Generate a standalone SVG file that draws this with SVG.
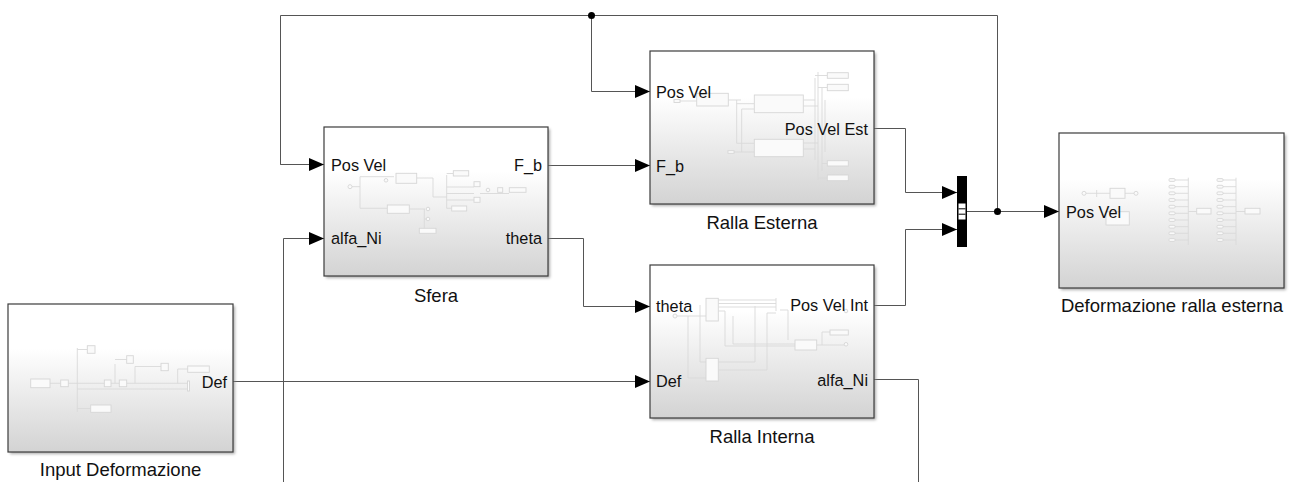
<svg xmlns="http://www.w3.org/2000/svg" width="1289" height="482" viewBox="0 0 1289 482">
<defs>
<linearGradient id="bg" x1="0" y1="0" x2="0" y2="1">
<stop offset="0" stop-color="#ffffff"/>
<stop offset="0.3" stop-color="#ffffff"/>
<stop offset="1" stop-color="#d3d3d3"/>
</linearGradient>
<filter id="sh" x="-5%" y="-5%" width="115%" height="115%">
<feGaussianBlur stdDeviation="1.5"/>
</filter>
<marker id="arr" markerUnits="userSpaceOnUse" markerWidth="15" markerHeight="13" refX="15" refY="6.5" orient="auto">
<path d="M0,0 L15,6.5 L0,13 z" fill="#000"/>
</marker>
<style>
.blk{fill:url(#bg);stroke:#3c3c3c;stroke-width:1.2}
.shd{fill:#8a8a8a;opacity:0.7;filter:url(#sh)}
.th{fill:none;stroke:#d9d9d9;stroke-width:0.9}
.thr{fill:#fafafa;stroke:#d6d6d6;stroke-width:0.9}
.pl{font-family:"Liberation Sans",Arial,sans-serif;font-size:16.3px;fill:#111}
.bn{font-family:"Liberation Sans",Arial,sans-serif;font-size:18.5px;fill:#111;text-anchor:middle}
.ln{fill:none;stroke:#555;stroke-width:1}
.la{fill:none;stroke:#555;stroke-width:1;marker-end:url(#arr)}
</style>
</defs>

<g id="connectors">
<path class="ln" d="M997.5,211.5 V15.5 H280.5 V164.5 H310"/>
<path class="la" d="M280.5,164.5 H324"/>
<path class="la" d="M591.5,15.5 V91.5 H650"/>
<path class="la" d="M548,165.5 H650"/>
<path class="la" d="M548,238.5 H583.5 V306.5 H650"/>
<path class="la" d="M233,381.5 H650"/>
<path class="la" d="M874,128.5 H905.5 V192.5 H957"/>
<path class="la" d="M874,305.5 H905.5 V229.5 H957"/>
<path class="la" d="M967,211.5 H1059"/>
<path class="ln" d="M874,379.5 H918.5 V482"/>
<path class="la" d="M283.5,482 V238.5 H324"/>
<circle cx="591.5" cy="15.5" r="3.5" fill="#000"/>
<circle cx="997.5" cy="211.5" r="3.5" fill="#000"/>
</g>

<g id="input-deformazione">
<rect class="shd" x="10" y="306" width="225" height="148"/>
<rect class="blk" x="8" y="304" width="225" height="148"/>
<g>
<path class="th" d="M50,383.3 H188 M77,389 H189 M77.3,348 V412 M77.3,349.5 H87 M77.3,408.5 H91 M115,364 V383.3 M115,359.5 H127 M135,366.5 V383.3 M135,366.5 H161 M177.7,369 V383.3 M177.7,369 H188"/>
<rect class="thr" x="30.7" y="379" width="19.3" height="8.7"/>
<rect class="thr" x="60.7" y="380" width="7.6" height="6.7"/>
<rect class="thr" x="87.3" y="345.7" width="7.7" height="7.6"/>
<rect class="thr" x="90.7" y="405" width="20.3" height="7.3"/>
<rect class="thr" x="104.3" y="380" width="6.7" height="6.7"/>
<rect class="thr" x="119.3" y="380" width="7.4" height="6.7"/>
<rect class="thr" x="126.7" y="355.7" width="6.6" height="7.6"/>
<rect class="thr" x="161" y="363.3" width="7.3" height="7.4"/>
<rect class="thr" x="187.7" y="366" width="21.6" height="6.3"/>
<rect class="thr" x="187.5" y="381" width="2" height="10"/>
</g>
<text class="pl" x="227" y="388" text-anchor="end">Def</text>
<text class="bn" x="120.5" y="476">Input Deformazione</text>
</g>

<g id="sfera">
<rect class="shd" x="326" y="129" width="224" height="149"/>
<rect class="blk" x="324" y="127" width="224" height="149"/>
<g>
<path class="th" d="M352,186.7 H360 M360,176.7 V208.3 M360,176.7 H394 M360,208.3 H387 M416.7,178 H433 V197 H447 M446.7,175 V208.3 M446.7,173.5 H453 M446.7,187 H474 M446.7,193.5 H474 M446.7,200 H474 M446.7,208.3 H452 M409.3,209 H425 M424.3,209 V232 M424.3,219 H427 M480,193.5 H509"/>
<rect class="thr" x="396" y="173.3" width="20.7" height="10"/>
<rect class="thr" x="387.3" y="205" width="22" height="8.3"/>
<rect class="thr" x="453.3" y="170.7" width="15.4" height="5.3"/>
<rect class="thr" x="474" y="181.7" width="6" height="5"/>
<rect class="thr" x="474" y="197.3" width="6" height="5"/>
<rect class="thr" x="497.7" y="187.7" width="5" height="4.6"/>
<rect class="thr" x="509.3" y="187.7" width="16.7" height="4.6"/>
<rect class="thr" x="451.7" y="206" width="15" height="5"/>
<rect class="thr" x="419.3" y="228.3" width="16.7" height="5"/>
<circle class="thr" cx="350" cy="186.7" r="2"/>
<circle class="thr" cx="386" cy="180.3" r="1.8"/>
<circle class="thr" cx="488" cy="190" r="1.8"/>
<circle class="thr" cx="428" cy="209" r="1.8"/>
<circle class="thr" cx="428" cy="219" r="1.8"/>
</g>
<text class="pl" x="331" y="170.5">Pos Vel</text>
<text class="pl" x="331" y="244">alfa_Ni</text>
<text class="pl" x="542" y="170.5" text-anchor="end">F_b</text>
<text class="pl" x="542" y="244" text-anchor="end">theta</text>
<text class="bn" x="436" y="302">Sfera</text>
</g>

<g id="ralla-esterna">
<rect class="shd" x="652" y="53" width="224" height="153"/>
<rect class="blk" x="650" y="51" width="224" height="153"/>
<g>
<path class="th" d="M680,101 H697 M728.3,100 H741 M736.7,100 V143.3 M741.7,109 V152 M736.7,103.7 H754 M741.7,109 H754 M736.7,143.3 H754 M730,152 H754 M803.3,100 H815 M803.3,106 H818 M803.3,143 H818 M803.3,149 H815 M815,78 V160 M818,72 V180 M822,88 V171 M815,75.5 H827 M818,87.5 H827 M822,163.5 H827 M818,178 H827 M825,100 V152"/>
<rect class="thr" x="674" y="99.5" width="6" height="3"/>
<rect class="thr" x="696.7" y="93.3" width="31.6" height="12.7"/>
<rect class="thr" x="754.3" y="95" width="49" height="17.7"/>
<rect class="thr" x="754.3" y="139.3" width="49" height="17.4"/>
<rect class="thr" x="728" y="150.7" width="6" height="2.6"/>
<rect class="thr" x="827.3" y="72.7" width="21" height="5.6"/>
<rect class="thr" x="827.3" y="84.3" width="21" height="6.4"/>
<rect class="thr" x="827.3" y="160.7" width="21" height="5.3"/>
<rect class="thr" x="827.3" y="175" width="21" height="5.7"/>
</g>
<text class="pl" x="656" y="97.5">Pos Vel</text>
<text class="pl" x="656" y="171.5">F_b</text>
<text class="pl" x="868" y="134.5" text-anchor="end">Pos Vel Est</text>
<text class="bn" x="762" y="228.5">Ralla Esterna</text>
</g>

<g id="ralla-interna">
<rect class="shd" x="652" y="267" width="224" height="153"/>
<rect class="blk" x="650" y="265" width="224" height="153"/>
<g>
<path class="th" d="M677,316 H706 M688,316 V378 M688,378 H706 M700,305 V362 M700,362 H706 M718.3,300 H776 M718.3,303.5 H776 M718.3,307 H776 M718.3,311 H725 V346 H795 M733,316 V344 H795 M718.3,362 H755 V306 M718.3,370 H767 V313 H776 M776,298 V311 M780,310 H788 V340 M816.7,345 H846 M822,345 V332 H830"/>
<rect class="thr" x="706" y="298.3" width="12.3" height="22.7"/>
<rect class="thr" x="706" y="358.3" width="12.3" height="22.7"/>
<rect class="thr" x="795" y="340" width="21.7" height="10"/>
<rect class="thr" x="830" y="330" width="18.3" height="5"/>
<circle class="thr" cx="846" cy="344.3" r="1.8"/>
<circle class="thr" cx="675" cy="316" r="2"/>
<circle class="thr" cx="846" cy="311" r="1.8"/>
</g>
<text class="pl" x="656" y="312">theta</text>
<text class="pl" x="656" y="386.5">Def</text>
<text class="pl" x="868" y="311" text-anchor="end">Pos Vel Int</text>
<text class="pl" x="868" y="385.5" text-anchor="end">alfa_Ni</text>
<text class="bn" x="762" y="443">Ralla Interna</text>
</g>

<g id="mux">
<rect x="957" y="176" width="10" height="71" fill="#000"/>
<rect x="958.5" y="203.5" width="7" height="16" fill="#fff"/>
<path d="M958.5,208.8 H965.5 M958.5,214.2 H965.5" stroke="#000" stroke-width="1"/>
</g>

<g id="deformazione-ralla-esterna">
<rect class="shd" x="1061" y="135" width="225" height="155"/>
<rect class="blk" x="1059" y="133" width="225" height="155"/>
<g>
<path class="th" d="M1086,193.3 H1110 M1096.7,190 V197 M1125,193.3 H1134 M1188.3,177.7 V245 M1236,177.7 V245 M1188.3,211.5 H1196.7 M1236,211.5 H1245
M1174,180 H1188.3 M1174,186.7 H1188.3 M1174,193.3 H1188.3 M1174,200 H1188.3 M1174,206.7 H1188.3 M1174,213.3 H1188.3 M1174,220 H1188.3 M1174,226.7 H1188.3 M1174,233.3 H1188.3 M1174,240 H1188.3
M1222,180 H1236 M1222,186.7 H1236 M1222,193.3 H1236 M1222,200 H1236 M1222,206.7 H1236 M1222,213.3 H1236 M1222,220 H1236 M1222,226.7 H1236 M1222,233.3 H1236 M1222,240 H1236"/>
<circle class="thr" cx="1084" cy="193.3" r="2"/>
<rect class="thr" x="1110" y="188.3" width="15" height="10"/>
<circle class="thr" cx="1136" cy="193.3" r="2"/>
<rect class="thr" x="1106" y="211.7" width="23.3" height="13.3"/>
<rect class="thr" x="1196.7" y="208.3" width="14.3" height="5.7"/>
<rect class="thr" x="1245" y="208.3" width="15" height="5.7"/>
<g class="thr">
<rect x="1169" y="178.6" width="6" height="2.8" rx="1"/>
<rect x="1169" y="185.3" width="6" height="2.8" rx="1"/>
<rect x="1169" y="191.9" width="6" height="2.8" rx="1"/>
<rect x="1169" y="198.6" width="6" height="2.8" rx="1"/>
<rect x="1169" y="205.3" width="6" height="2.8" rx="1"/>
<rect x="1169" y="211.9" width="6" height="2.8" rx="1"/>
<rect x="1169" y="218.6" width="6" height="2.8" rx="1"/>
<rect x="1169" y="225.3" width="6" height="2.8" rx="1"/>
<rect x="1169" y="231.9" width="6" height="2.8" rx="1"/>
<rect x="1169" y="238.6" width="6" height="2.8" rx="1"/>
<rect x="1217" y="178.6" width="6" height="2.8" rx="1"/>
<rect x="1217" y="185.3" width="6" height="2.8" rx="1"/>
<rect x="1217" y="191.9" width="6" height="2.8" rx="1"/>
<rect x="1217" y="198.6" width="6" height="2.8" rx="1"/>
<rect x="1217" y="205.3" width="6" height="2.8" rx="1"/>
<rect x="1217" y="211.9" width="6" height="2.8" rx="1"/>
<rect x="1217" y="218.6" width="6" height="2.8" rx="1"/>
<rect x="1217" y="225.3" width="6" height="2.8" rx="1"/>
<rect x="1217" y="231.9" width="6" height="2.8" rx="1"/>
<rect x="1217" y="238.6" width="6" height="2.8" rx="1"/>
</g>
</g>
<text class="pl" x="1066" y="217.5">Pos Vel</text>
<text class="bn" x="1172" y="312">Deformazione ralla esterna</text>
</g>
</svg>
